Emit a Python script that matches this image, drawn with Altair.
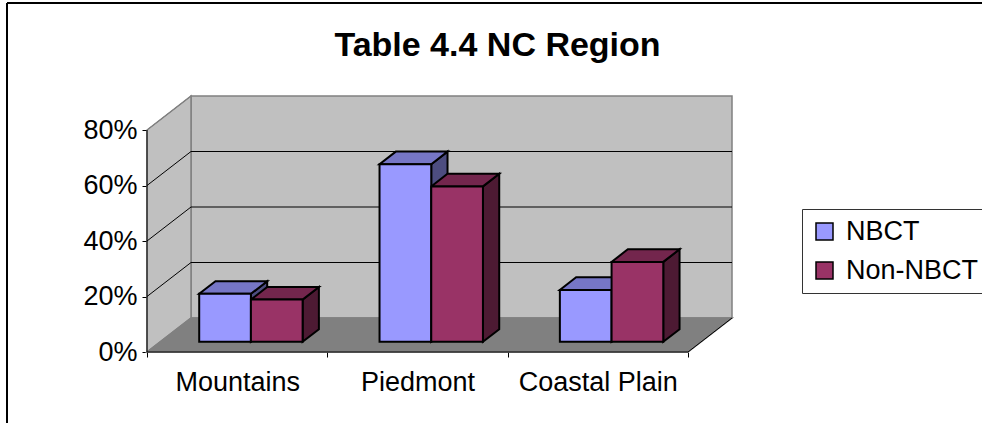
import altair as alt
import pandas as pd

# ---- data -------------------------------------------------------------
categories = ["Mountains", "Piedmont", "Coastal Plain"]
series = ["NBCT", "Non-NBCT"]
nbct = [0.173, 0.640, 0.187]
non_nbct = [0.152, 0.560, 0.288]
y_ticks = [0.0, 0.2, 0.4, 0.6, 0.8]
title_text = "Table 4.4 NC Region"

# ---- style ------------------------------------------------------------
FONT = "Liberation Sans"
front_colors = ["#9999FF", "#993366"]
top_colors = ["#7676C6", "#73264D"]
side_colors = ["#4D4D80", "#4D1A33"]
WALL_FILL = "#C0C0C0"
FLOOR_FILL = "#808080"
EDGE_GRAY = "#808080"

# ---- oblique projection ----------------------------------------------
CAT_PX = 180.3          # pixels per category along x
VAL_PX = 277.5          # pixels per 100% along y
WALL_DX = 44 / CAT_PX   # depth of the box, in x units
WALL_DY = 34 / VAL_PX   # depth of the box, in value units
BAR_POS = 0.30          # depth of the bar front faces (0 = front, 1 = back)
BAR_DEPTH = 0.37        # bar thickness as a share of the box depth
BAR_W = 0.2867          # width of one bar, in category units
GROUP_OFF = 0.2163      # gap before the first bar of a group
Y_MAX = y_ticks[-1]

N = len(categories)
X_MAX = N + WALL_DX
Y_TOP = Y_MAX + WALL_DY
W = round(X_MAX * CAT_PX)
H = round(Y_TOP * VAL_PX)
PAD = {"left": 147, "top": 96, "right": 982 - 147 - W, "bottom": 423 - 96 - H}

xs = alt.Scale(domain=[0, X_MAX], nice=False, zero=False)
ys = alt.Scale(domain=[0, Y_TOP], nice=False, zero=False)

# ---- bar faces --------------------------------------------------------
values = [nbct, non_nbct]
fronts, tops, sides = [], [], []
ddx, ddy = BAR_DEPTH * WALL_DX, BAR_DEPTH * WALL_DY
base = BAR_POS * WALL_DY
for s, name in enumerate(series):
    for i, cat in enumerate(categories):
        v = values[s][i]
        xa = i + GROUP_OFF + BAR_POS * WALL_DX + s * BAR_W
        xb = xa + BAR_W
        t = base + v
        fronts.append({"series": name, "x": xa, "x2": xb, "y": base, "y2": t})
        fid = f"{name}-{cat}"
        for px, lo, hi in [(xa, t, t), (xa + ddx, t, t + ddy),
                           (xb, t, t + ddy), (xb + ddx, t + ddy, t + ddy)]:
            tops.append({"face": fid, "x": px, "y": lo, "y2": hi, "fill": top_colors[s]})
        for px, lo, hi in [(xb, base, t), (xb + ddx, base + ddy, t + ddy)]:
            sides.append({"face": fid, "x": px, "y": lo, "y2": hi, "fill": side_colors[s]})

# ---- walls, floor, grid -----------------------------------------------
back_wall = pd.DataFrame([{"x": WALL_DX, "x2": X_MAX, "y": WALL_DY, "y2": Y_TOP}])
planes = pd.DataFrame(
    [{"face": "left", "x": 0, "y": 0, "y2": Y_MAX, "fill": WALL_FILL, "edge": EDGE_GRAY},
     {"face": "left", "x": WALL_DX, "y": WALL_DY, "y2": Y_TOP, "fill": WALL_FILL, "edge": EDGE_GRAY},
     {"face": "floor", "x": 0, "y": 0, "y2": 0, "fill": FLOOR_FILL, "edge": FLOOR_FILL},
     {"face": "floor", "x": WALL_DX, "y": 0, "y2": WALL_DY, "fill": FLOOR_FILL, "edge": FLOOR_FILL},
     {"face": "floor", "x": N, "y": 0, "y2": WALL_DY, "fill": FLOOR_FILL, "edge": FLOOR_FILL},
     {"face": "floor", "x": N + WALL_DX, "y": WALL_DY, "y2": WALL_DY, "fill": FLOOR_FILL, "edge": FLOOR_FILL}]
)

lines = []
for v in y_ticks[1:-1]:
    lines.append({"x": WALL_DX, "x2": X_MAX, "y": v + WALL_DY, "y2": v + WALL_DY, "c": "#000000"})
    lines.append({"x": 0, "x2": WALL_DX, "y": v, "y2": v + WALL_DY, "c": "#000000"})
lines.append({"x": 0, "x2": WALL_DX, "y": Y_MAX, "y2": Y_TOP, "c": EDGE_GRAY})
lines.append({"x": N, "x2": N + WALL_DX, "y": 0, "y2": WALL_DY, "c": "#000000"})
lines.append({"x": 0, "x2": 0, "y": 0, "y2": Y_MAX, "c": "#000000"})
lines.append({"x": 0, "x2": N, "y": 0, "y2": 0, "c": "#000000"})
lines = pd.DataFrame(lines)

# ---- axes -------------------------------------------------------------
x_vals = [k / 2 for k in range(2 * N + 1)]
label_expr = " : ".join(f"datum.value == {i + 0.5} ? '{c}'" for i, c in enumerate(categories)) + " : ''"
x_axis = alt.Axis(
    values=x_vals, labelExpr=label_expr, title=None, grid=False, domain=False,
    tickSize=5, tickColor="black", tickWidth=1,
    tickOpacity={"condition": {"test": "datum.value % 1 != 0", "value": 0}, "value": 1},
    labelPadding=12, labelFont=FONT, labelFontSize=27, labelColor="black",
    labelFlush=False, labelOverlap=False, labelBound=False,
)
y_axis = alt.Axis(
    values=y_ticks, format=".0%", title=None, grid=False, domain=False,
    tickSize=5, tickColor="black", tickWidth=1, labelPadding=5,
    labelFont=FONT, labelFontSize=27, labelColor="black", labelOverlap=False,
)


def X():
    return alt.X("x:Q", scale=xs, axis=x_axis)


def Y(**kw):
    return alt.Y("y:Q", scale=ys, axis=y_axis, **kw)


wall_layer = alt.Chart(back_wall).mark_rect(
    fill=WALL_FILL, stroke=EDGE_GRAY, strokeWidth=1.5, opacity=1
).encode(x=X(), x2="x2:Q", y=Y(), y2="y2:Q")

plane_layer = alt.Chart(planes).mark_area(
    orient="vertical", strokeWidth=1.5, opacity=1, interpolate="linear"
).encode(
    x=X(), y=Y(stack=None), y2="y2:Q",
    detail="face:N",
    fill=alt.Fill("fill:N", scale=None),
    stroke=alt.Stroke("edge:N", scale=None),
)

line_layer = alt.Chart(lines).mark_rule(strokeWidth=1).encode(
    x=X(), x2="x2:Q", y=Y(), y2="y2:Q",
    stroke=alt.Stroke("c:N", scale=None),
)


def face_layer(rows):
    return alt.Chart(pd.DataFrame(rows)).mark_area(
        orient="vertical", stroke="black", strokeWidth=2, opacity=1,
        interpolate="linear", strokeJoin="miter",
    ).encode(
        x=X(), y=Y(stack=None), y2="y2:Q",
        detail="face:N",
        fill=alt.Fill("fill:N", scale=None),
    )


front_layer = alt.Chart(pd.DataFrame(fronts)).mark_rect(
    stroke="black", strokeWidth=2, opacity=1, strokeJoin="miter"
).encode(
    x=X(), x2="x2:Q", y=Y(), y2="y2:Q",
    color=alt.Color(
        "series:N",
        scale=alt.Scale(domain=series, range=front_colors),
        legend=alt.Legend(
            orient="none", legendX=655, legendY=113, title=None,
            symbolType="square", symbolSize=289, symbolStrokeColor="black",
            symbolStrokeWidth=1.5, symbolOpacity=1,
            labelFont=FONT, labelFontSize=27, labelColor="black", labelOffset=8,
            rowPadding=11, padding=9, strokeColor="#333333", fillColor="white",
        ),
    ),
)

# chart frame (top and left edges)
frame_top = alt.Chart(back_wall).mark_rule(color="black", strokeWidth=2).encode(
    x=alt.value(7 - PAD["left"]), x2=alt.value(982 - PAD["left"]), y=alt.value(3 - PAD["top"])
)
frame_left = alt.Chart(back_wall).mark_rule(color="black", strokeWidth=2).encode(
    x=alt.value(7 - PAD["left"]), y=alt.value(3 - PAD["top"]), y2=alt.value(423 - PAD["top"])
)

# the frame sets the top of the content bounds; the title is pulled back
# down inside it so that its baseline sits near y = 55
TITLE_OFFSET = -88

chart = alt.layer(
    wall_layer, plane_layer, line_layer,
    face_layer(sides), face_layer(tops), front_layer,
    frame_top, frame_left,
).properties(
    width=W, height=H,
    autosize=alt.AutoSizeParams(type="none"),
    padding=PAD,
    title=alt.TitleParams(
        title_text, font=FONT, fontSize=34, fontWeight="bold", color="black",
        anchor="middle", frame="group", dx=58, offset=TITLE_OFFSET, baseline="alphabetic",
    ),
    background="white",
).configure_view(stroke=None)

chart.save("out.html", embed_options={"renderer": "svg", "actions": False})
